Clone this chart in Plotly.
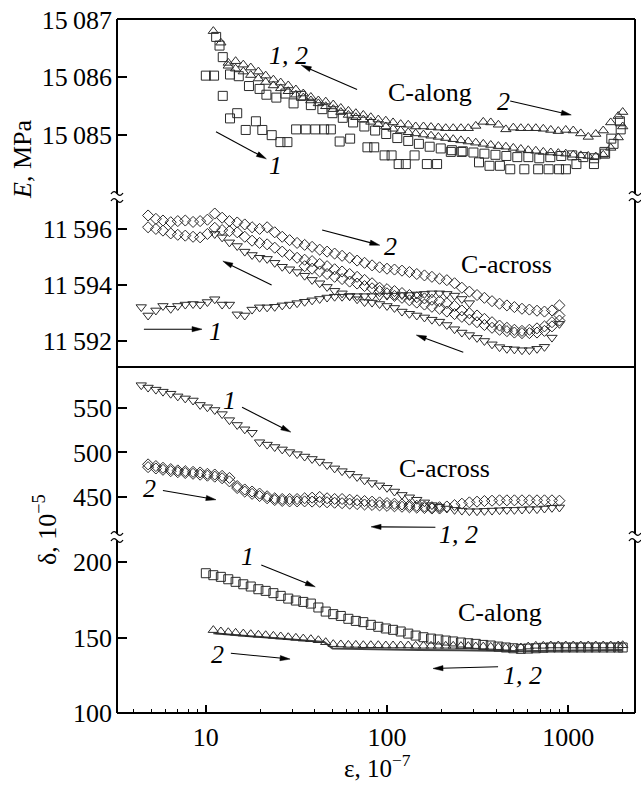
import math
import plotly.graph_objects as go

# ---------------- data ----------------
# common strain grids (epsilon, 1e-7)
GX1 = [4.4, 4.8, 5.3, 5.8, 6.4, 7.0, 7.7, 8.5, 9.3, 10.2, 11.2, 12.3, 13.5, 14.9, 16.4, 18.0, 19.8,
       21.8, 24.0, 26.4, 29.0, 31.9, 35.1, 38.6, 42.5, 46.7, 51.4, 56.5, 62.2, 68.4, 75.2, 82.7, 91.0,
       100, 110, 121, 133, 146, 161, 177, 195, 214, 236, 259, 285, 314, 345, 380, 418, 459, 505, 556,
       611, 673, 740, 814, 895]
GX2 = [10, 11, 12.1, 13.3, 14.6, 16.1, 17.7, 19.5, 21.4, 23.6, 25.9, 28.5, 31.4, 34.5, 38.0, 41.8,
       45.9, 50.5, 55.6, 61.2, 67.3, 74.0, 81.4, 89.5, 98.5, 108, 119, 131, 144, 159, 175, 192, 211,
       232, 256, 281, 309, 340, 374, 412, 453, 498, 548, 602, 663, 729, 802, 882, 970, 1067, 1174,
       1291, 1420, 1562, 1718, 1890, 2000]

# ---- E, C-along (MPa) ----
A_TRI_FWD = [15086.80, 15086.60, 15086.25, 15086.28, 15086.22, 15086.17, 15086.10, 15086.03, 15085.96, 15085.91,
             15085.86, 15085.79, 15085.72, 15085.66, 15085.60, 15085.58, 15085.53, 15085.47, 15085.42, 15085.38,
             15085.35, 15085.31, 15085.27, 15085.25, 15085.22, 15085.19, 15085.18, 15085.15, 15085.15, 15085.14,
             15085.13, 15085.12, 15085.12, 15085.12, 15085.12, 15085.16, 15085.23, 15085.22, 15085.18, 15085.10,
             15085.13, 15085.12, 15085.12, 15085.12, 15085.11, 15085.09, 15085.07, 15085.09, 15085.08, 15085.03,
             15084.97, 15085.02, 15085.08, 15085.22, 15085.33, 15085.40]          # GX2[1:]
A_TRI_RET = [15086.20, 15086.15, 15086.10, 15086.04, 15085.98, 15085.92, 15085.86, 15085.81, 15085.76, 15085.70,
             15085.65, 15085.60, 15085.55, 15085.50, 15085.45, 15085.40, 15085.35, 15085.31, 15085.27, 15085.23,
             15085.19, 15085.15, 15085.11, 15085.08, 15085.05, 15085.03, 15085.01, 15084.99, 15084.97, 15084.95,
             15084.93, 15084.91, 15084.89, 15084.87, 15084.85, 15084.83, 15084.81, 15084.80, 15084.78, 15084.76,
             15084.74, 15084.73, 15084.71, 15084.70, 15084.69, 15084.68, 15084.66, 15084.65, 15084.64, 15084.63,
             15084.66, 15084.78, 15084.96, 15085.15]                              # GX2[3:]
A_SQ_FWD_X = [10.0, 11.1, 12.4, 13.6, 14.9, 16.6, 18.9, 20.5, 23.1, 25.8, 28.2, 31.5, 35.6, 40.2, 45.0, 49.0,
              54.8, 62.6, 78, 85, 97, 106, 116, 127, 142, 166, 189, 225, 258, 322, 368, 420, 479, 573, 683,
              780, 891, 972, 1111, 1388, 1585, 1731, 1930]
A_SQ_FWD_Y = [15086.03, 15086.03, 15085.68, 15085.29, 15085.38, 15085.09, 15085.24, 15085.09, 15085.00, 15084.88,
              15084.88, 15085.10, 15085.10, 15085.10, 15085.10, 15085.10, 15084.89, 15084.94, 15084.79, 15084.79,
              15084.65, 15084.65, 15084.50, 15084.50, 15084.65, 15084.50, 15084.50, 15084.71, 15084.71, 15084.53,
              15084.47, 15084.47, 15084.41, 15084.41, 15084.41, 15084.41, 15084.41, 15084.41, 15084.50, 15084.50,
              15084.71, 15084.94, 15085.24]
A_SQ_RET_X = [11.4, 11.9, 12.4, 13.6, 15.2, 17.3, 19.8, 21.6, 24.5, 27.5, 30.5, 33.5, 38, 44, 50, 57, 65, 75,
              86, 99, 114, 131, 150, 172, 198, 228, 262, 300, 345, 397, 456, 524, 603, 693, 797, 916, 1053,
              1211, 1392, 1600, 1780, 1950]
A_SQ_RET_Y = [15086.70, 15086.55, 15086.35, 15086.05, 15086.02, 15085.85, 15085.80, 15085.70, 15085.65, 15085.72,
              15085.55, 15085.68, 15085.52, 15085.45, 15085.38, 15085.30, 15085.22, 15085.15, 15085.08, 15085.02,
              15084.95, 15084.90, 15084.85, 15084.80, 15084.77, 15084.74, 15084.72, 15084.70, 15084.68, 15084.66,
              15084.64, 15084.62, 15084.62, 15084.60, 15084.62, 15084.64, 15084.65, 15084.62, 15084.60, 15084.68,
              15084.85, 15085.10]

# ---- E, C-across (MPa) ----
B_TRI_FLAT = [11593.21, 11592.91, 11593.09, 11593.25, 11593.15, 11593.25, 11593.30, 11593.32, 11593.30, 11593.39,
              11593.49, 11593.30, 11593.30, 11592.95, 11592.91, 11593.12, 11593.20, 11593.20, 11593.22, 11593.27,
              11593.30, 11593.35, 11593.40, 11593.45, 11593.50, 11593.55, 11593.58, 11593.58, 11593.60, 11593.60,
              11593.60, 11593.60, 11593.60, 11593.62, 11593.62, 11593.64, 11593.64, 11593.66, 11593.68, 11593.70,
              11593.70, 11593.68, 11593.62, 11593.50, 11593.35]                   # GX1[0:]
B_TRI_DESC = [11595.82, 11595.70, 11595.52, 11595.39, 11595.19, 11595.07, 11594.97, 11594.93, 11594.79, 11594.65,
              11594.56, 11594.46, 11594.33, 11594.18, 11594.06, 11593.93, 11593.79, 11593.70, 11593.60, 11593.49,
              11593.39, 11593.37, 11593.32, 11593.25, 11593.18, 11593.05, 11592.97, 11592.91, 11592.84, 11592.76,
              11592.69, 11592.57, 11592.42, 11592.30, 11592.21, 11592.11, 11592.00, 11591.88, 11591.78, 11591.72,
              11591.70, 11591.67, 11591.67, 11591.72, 11591.79, 11592.12, 11592.61]  # GX1[10:]
B_DI_UP = [11596.48, 11596.36, 11596.30, 11596.24, 11596.28, 11596.30, 11596.25, 11596.28, 11596.33, 11596.55,
           11596.40, 11596.28, 11596.23, 11596.16, 11596.06, 11596.00, 11596.06, 11595.88, 11595.72, 11595.60,
           11595.50, 11595.43, 11595.36, 11595.26, 11595.19, 11595.12, 11595.04, 11594.97, 11594.87, 11594.79,
           11594.70, 11594.63, 11594.58, 11594.55, 11594.51, 11594.46, 11594.39, 11594.34, 11594.29, 11594.22,
           11594.17, 11594.06, 11593.90, 11593.76, 11593.64, 11593.54, 11593.42, 11593.33, 11593.27, 11593.21,
           11593.15, 11593.12, 11593.08, 11593.05, 11593.09, 11593.27]            # GX1[1:]
B_DI_MID = [11596.06, 11596.00, 11595.94, 11595.84, 11595.79, 11595.76, 11595.72, 11595.70, 11595.82, 11596.04,
            11595.96, 11595.92, 11595.88, 11595.72, 11595.58, 11595.50, 11595.45, 11595.33, 11595.19, 11595.07,
            11594.97, 11594.90, 11594.85, 11594.75, 11594.67, 11594.56, 11594.48, 11594.39, 11594.29, 11594.18,
            11594.06, 11593.90, 11593.85, 11593.78, 11593.71, 11593.64, 11593.56, 11593.52, 11593.47, 11593.42,
            11593.35, 11593.25, 11593.09, 11592.99, 11592.91, 11592.79, 11592.67, 11592.55, 11592.47, 11592.40,
            11592.36, 11592.40, 11592.45, 11592.52, 11592.67, 11592.91]           # GX1[1:]
B_DI_LOW = [11594.67, 11594.58, 11594.48, 11594.39, 11594.29, 11594.21, 11594.12, 11594.05, 11593.96, 11593.88,
            11593.78, 11593.70, 11593.61, 11593.54, 11593.45, 11593.37, 11593.30, 11593.22, 11593.15, 11593.05,
            11592.96, 11592.86, 11592.76, 11592.67, 11592.57, 11592.47, 11592.40, 11592.35, 11592.30, 11592.28,
            11592.28, 11592.30, 11592.36, 11592.52, 11592.73]                     # GX1[22:]

# ---- delta, C-across (1e-5) ----
C_TRI = [575.6, 572.9, 570.6, 568.3, 566.0, 563.0, 560.7, 558.4, 553.4, 550.8,
         547.7, 543.1, 536.3, 530.9, 526.0, 522.1, 511.5, 508.8, 506.1, 503.4,
         500.4, 498.1, 495.4, 492.7, 489.7, 485.9, 482.1, 479.0, 476.0, 472.5,
         468.7, 465.6, 463.0, 460.3, 456.1, 452.3, 449.6, 446.9, 443.9, 440.8,
         438.9, 437.0, 435.5, 434.7, 434.0, 434.0, 434.4, 434.7, 435.1, 435.5,
         435.5, 435.9, 436.3, 436.3, 437.0, 437.8, 438.2]                        # GX1[0:]
C_DI = [486.6, 484.7, 482.8, 481.3, 479.8, 479.0, 478.2, 477.5, 476.0, 475.2,
        473.7, 471.4, 462.2, 458.4, 456.1, 453.8, 450.8, 448.5, 447.7, 447.7,
        447.7, 448.5, 449.2, 450.0, 448.5, 447.7, 447.7, 446.9, 446.2, 445.4,
        444.7, 443.9, 443.1, 442.4, 441.6, 440.8, 440.1, 439.3, 438.5, 438.5,
        439.3, 440.8, 442.4, 443.9, 444.7, 445.4, 445.8, 446.2, 446.2, 446.2,
        446.2, 446.2, 446.2, 446.2, 446.2, 445.8]                                # GX1[1:]
C_DI_RET = [483.5, 482.0, 480.5, 479.0, 477.8, 476.9, 476.0, 475.0, 473.9, 472.8,
            471.0, 467.5, 460.0, 456.0, 453.5, 451.0, 448.5, 446.5, 445.5, 445.0,
            445.0, 445.0, 444.8, 444.5, 444.0, 443.5, 443.0, 442.5, 442.0, 441.5,
            441.0, 440.5, 440.0, 439.5, 439.0, 438.5, 438.0, 437.5, 437.0, 437.0]  # GX1[1:]

# ---- delta, C-along (1e-5) ----
D_SQ = [192.6, 191.3, 190.2, 188.6, 186.9, 185.3, 183.8, 182.0, 180.9, 179.4,
        177.6, 175.8, 174.5, 173.6, 172.5, 169.9, 167.2, 165.5, 164.3, 162.4,
        161.0, 160.2, 158.4, 157.1, 156.0, 155.1, 154.0, 152.6, 151.3, 150.2,
        149.3, 148.7, 148.0, 147.4, 146.7, 146.2, 145.8, 145.1, 144.7, 144.0,
        143.4, 142.9, 142.5, 142.7, 142.9, 143.2, 143.4, 143.4, 143.4, 143.4,
        143.4, 143.4, 143.4, 143.4, 143.4, 143.4, 143.4]                         # GX2[0:]
D_TRI = [154.9, 154.0, 153.5, 153.1, 152.6, 152.2, 151.8, 151.5, 151.1, 150.7,
         150.2, 149.8, 149.3, 148.9, 148.2, 146.9, 145.6, 145.4, 145.1, 145.1,
         144.9, 144.9, 144.9, 144.7, 144.7, 144.7, 144.7, 144.5, 144.5, 144.5,
         144.5, 144.5, 144.5, 144.3, 144.3, 144.0, 144.0, 143.8, 143.6, 143.2,
         142.5, 143.4, 144.0, 144.5, 144.5, 144.7, 144.7, 144.7, 144.7, 144.7,
         144.7, 144.7, 144.7, 144.7, 144.7, 144.9]                               # GX2[1:]
D_RET_X = [11, 15, 20, 27, 36, 45, 50, 70, 100, 150, 250, 400, 550, 800, 1200, 2000]
D_RET_Y = [152.8, 151.6, 150.4, 149.2, 148.0, 147.0, 142.8, 142.4, 142.0, 141.8, 141.6, 141.2, 140.9, 141.3, 141.6, 141.8]

# tick labels
A_TICKS = [15085, 15086, 15087]
A_TICKTEXT = ["15\u2009085", "15\u2009086", "15\u2009087"]
B_TICKS = [11592, 11594, 11596]
B_TICKTEXT = ["11\u2009592", "11\u2009594", "11\u2009596"]
C_TICKS = [450, 500, 550]
D_TICKS = [100, 150, 200]
X_TICKS = [10, 100, 1000]
X_MINOR = [4, 5, 6, 7, 8, 9, 20, 30, 40, 50, 60, 70, 80, 90, 200, 300, 400, 500, 600, 700, 800, 900, 2000]

# ---------------- layout geometry ----------------
W, H = 641, 785
L, R, T, B = 117, 635, 19, 713          # plot frame in pixels
BREAK1, MID, BREAK2 = 197, 367, 537
XR = [0.5096, 3.369]
YR = {"y": [100, 216.6], "y2": [405, 596], "y3": [11591.07, 11597.14], "y4": [15083.93, 15087.01]}
YPIX = {"y": (B, BREAK2), "y2": (BREAK2, MID), "y3": (MID, BREAK1), "y4": (BREAK1, T)}


def pxx(x):
    return (x - L) / (R - L)


def pyy(y):
    return (B - y) / (B - T)


FONT = "Liberation Serif"
INK = "#2a2a2a"

fig = go.Figure()


def mk(sym, size=9):
    return dict(symbol=sym, size=size, color=INK, line=dict(width=1, color=INK))


def add(x, y, yax, sym, size=9):
    fig.add_trace(go.Scatter(x=x, y=y, mode="markers", marker=mk(sym, size),
                             xaxis="x", yaxis=yax, showlegend=False, hoverinfo="skip"))


# panel A (top): E, C-along
add(A_SQ_FWD_X, A_SQ_FWD_Y, "y4", "square-open")
add(A_SQ_RET_X, A_SQ_RET_Y, "y4", "square-open")
add(GX2[1:1 + len(A_TRI_FWD)], A_TRI_FWD, "y4", "triangle-up-open")
add(GX2[3:3 + len(A_TRI_RET)], A_TRI_RET, "y4", "triangle-up-open")
# panel B: E, C-across
add(GX1[0:len(B_TRI_FLAT)], B_TRI_FLAT, "y3", "triangle-down-open")
add(GX1[10:10 + len(B_TRI_DESC)], B_TRI_DESC, "y3", "triangle-down-open")
add(GX1[1:1 + len(B_DI_UP)], B_DI_UP, "y3", "diamond-open", 8.5)
add(GX1[1:1 + len(B_DI_MID)], B_DI_MID, "y3", "diamond-open", 8.5)
add(GX1[22:22 + len(B_DI_LOW)], B_DI_LOW, "y3", "diamond-open", 8.5)
# panel C: delta, C-across
add(GX1[0:len(C_TRI)], C_TRI, "y2", "triangle-down-open")
add(GX1[1:1 + len(C_DI_RET)], C_DI_RET, "y2", "diamond-open", 8.5)
add(GX1[1:1 + len(C_DI)], C_DI, "y2", "diamond-open", 8.5)
# panel D: delta, C-along
fig.add_trace(go.Scatter(x=D_RET_X, y=D_RET_Y, mode="lines", line=dict(color="#444", width=2),
                         xaxis="x", yaxis="y", showlegend=False, hoverinfo="skip"))
add(GX2[0:len(D_SQ)], D_SQ, "y", "square-open")
add(GX2[1:1 + len(D_TRI)], D_TRI, "y", "triangle-up-open")

tickfont = dict(family=FONT, size=26, color="black")
yax_common = dict(showgrid=False, zeroline=False, showline=False, ticks="inside", ticklen=10,
                  tickwidth=1.5, tickcolor="black", tickfont=tickfont, anchor="x",
                  tickmode="array", ticklabelstandoff=4)

fig.update_layout(
    width=W, height=H,
    margin=dict(l=L, r=W - R, t=T, b=H - B, pad=0),
    paper_bgcolor="white", plot_bgcolor="white",
    showlegend=False,
    xaxis=dict(type="log", range=XR, showgrid=False, zeroline=False, showline=False,
               ticks="inside", ticklen=8, tickwidth=1.5, tickcolor="black", tickfont=tickfont,
               tickmode="array", tickvals=X_TICKS, ticktext=[str(v) for v in X_TICKS],
               ticklabelstandoff=6, anchor="y",
               minor=dict(ticks="inside", ticklen=4, tickwidth=1, tickcolor="black",
                          tickmode="array", tickvals=X_MINOR, showgrid=False)),
    yaxis=dict(domain=[0, pyy(BREAK2)], range=YR["y"], tickvals=D_TICKS,
               ticktext=[str(v) for v in D_TICKS], **yax_common),
    yaxis2=dict(domain=[pyy(BREAK2), pyy(MID)], range=YR["y2"], tickvals=C_TICKS,
                ticktext=[str(v) for v in C_TICKS], **yax_common),
    yaxis3=dict(domain=[pyy(MID), pyy(BREAK1)], range=YR["y3"], tickvals=B_TICKS,
                ticktext=B_TICKTEXT, **yax_common),
    yaxis4=dict(domain=[pyy(BREAK1), 1], range=YR["y4"], tickvals=A_TICKS,
                ticktext=A_TICKTEXT, **yax_common),
)

# ---------------- frame & axis breaks ----------------
shapes = []
LW = 2
for (x0, y0, x1, y1) in [(0, 0, 0, 1), (1, 0, 1, 1), (0, 0, 1, 0), (0, 1, 1, 1),
                         (0, pyy(MID), 1, pyy(MID))]:
    shapes.append(dict(type="line", xref="paper", yref="paper", x0=x0, y0=y0, x1=x1, y1=y1,
                       line=dict(color="black", width=LW)))


def brk(cx, cy):
    out = [dict(type="rect", xref="paper", yref="paper",
                x0=pxx(cx - 3), x1=pxx(cx + 3), y0=pyy(cy + 3.5), y1=pyy(cy - 3.5),
                fillcolor="white", line=dict(width=0))]
    for dy in (-3.5, 3.5):
        yy = cy + dy
        path = (f"M {pxx(cx - 6)},{pyy(yy + 0.5)} "
                f"Q {pxx(cx - 3)},{pyy(yy - 4)} {pxx(cx)},{pyy(yy)} "
                f"Q {pxx(cx + 3)},{pyy(yy + 4)} {pxx(cx + 6)},{pyy(yy - 0.5)}")
        out.append(dict(type="path", xref="paper", yref="paper", path=path,
                        line=dict(color="black", width=1.3)))
    return out


for cx in (L, R):
    for cy in (BREAK1, BREAK2):
        shapes += brk(cx, cy)


# arrows (drawn as shapes; positions given in log10(eps) and axis units)
def to_px(lx, y, yref):
    px = L + (lx - XR[0]) / (XR[1] - XR[0]) * (R - L)
    lo, hi = YR[yref]
    pb, pt = YPIX[yref]
    py = pb - (y - lo) / (hi - lo) * (pb - pt)
    return px, py


def arrow(x0, y0, x1, y1, yref):
    tx, ty = to_px(x0, y0, yref)
    hx, hy = to_px(x1, y1, yref)
    d = math.hypot(hx - tx, hy - ty)
    ux, uy = (hx - tx) / d, (hy - ty) / d
    hl, hw = 10, 2.6
    bx, by = hx - ux * hl, hy - uy * hl
    shapes.append(dict(type="line", xref="paper", yref="paper",
                       x0=pxx(tx), y0=pyy(ty), x1=pxx(bx + ux * 2), y1=pyy(by + uy * 2),
                       line=dict(color="black", width=1.1)))
    p1 = (bx - uy * hw, by + ux * hw)
    p2 = (bx + uy * hw, by - ux * hw)
    path = (f"M {pxx(hx)},{pyy(hy)} L {pxx(p1[0])},{pyy(p1[1])} "
            f"L {pxx(p2[0])},{pyy(p2[1])} Z")
    shapes.append(dict(type="path", xref="paper", yref="paper", path=path,
                       fillcolor="black", line=dict(color="black", width=0.5)))


arrow(1.835, 15085.79, 1.527, 15086.21, "y4")
arrow(2.68, 15085.59, 3.017, 15085.35, "y4")
arrow(1.056, 15085.06, 1.334, 15084.59, "y4")
arrow(1.642, 11595.96, 1.96, 11595.42, "y3")
arrow(1.363, 11594.0, 1.094, 11594.85, "y3")
arrow(0.658, 11592.42, 0.979, 11592.42, "y3")
arrow(2.421, 11591.6, 2.162, 11592.21, "y3")
arrow(1.2, 550.8, 1.469, 522.9, "y2")
arrow(0.763, 457.3, 1.056, 446.9, "y2")
arrow(2.267, 416.0, 1.912, 416.4, "y2")
arrow(1.306, 198.1, 1.604, 183.6, "y")
arrow(1.138, 139.6, 1.465, 135.7, "y")
arrow(2.613, 130.6, 2.254, 129.5, "y")

fig.update_layout(shapes=shapes)

# ---------------- annotations ----------------
ann = []
TF = dict(family=FONT, size=26, color="black")


def text(x, y, yref, s, italic=False):
    ann.append(dict(x=x, y=y, xref="x", yref=yref, text=(f"<i>{s}</i>" if italic else s),
                    showarrow=False, font=TF, xanchor="center", yanchor="middle"))


text(1.454, 15086.38, "y4", "1, 2", True)
text(2.238, 15085.74, "y4", "C-along")
text(2.642, 15085.59, "y4", "2", True)
text(1.383, 15084.47, "y4", "1", True)
text(2.017, 11595.39, "y3", "2", True)
text(2.662, 11594.73, "y3", "C-across")
text(1.056, 11592.33, "y3", "1", True)
text(1.133, 558.4, "y2", "1", True)
text(2.315, 482.1, "y2", "C-across")
text(0.69, 459.2, "y2", "2", True)
text(2.392, 407.6, "y2", "1, 2", True)
text(1.229, 204, "y", "1", True)
text(2.623, 166.6, "y", "C-along")
text(1.065, 139, "y", "2", True)
text(2.748, 124.6, "y", "1, 2", True)

# axis titles
ann.append(dict(x=pxx(22), y=pyy(160), xref="paper", yref="paper", text="<i>E</i>, MPa",
                textangle=-90, showarrow=False, font=TF, xanchor="center", yanchor="middle"))
ann.append(dict(x=pxx(45), y=pyy(530), xref="paper", yref="paper", text="δ, 10<sup>−5</sup>",
                textangle=-90, showarrow=False, font=TF, xanchor="center", yanchor="middle"))
ann.append(dict(x=pxx(377), y=pyy(766), xref="paper", yref="paper", text="ε, 10<sup>−7</sup>",
                showarrow=False, font=dict(family=FONT, size=25, color="black"),
                xanchor="center", yanchor="middle"))
fig.update_layout(annotations=ann)

fig.write_html("out.html")
